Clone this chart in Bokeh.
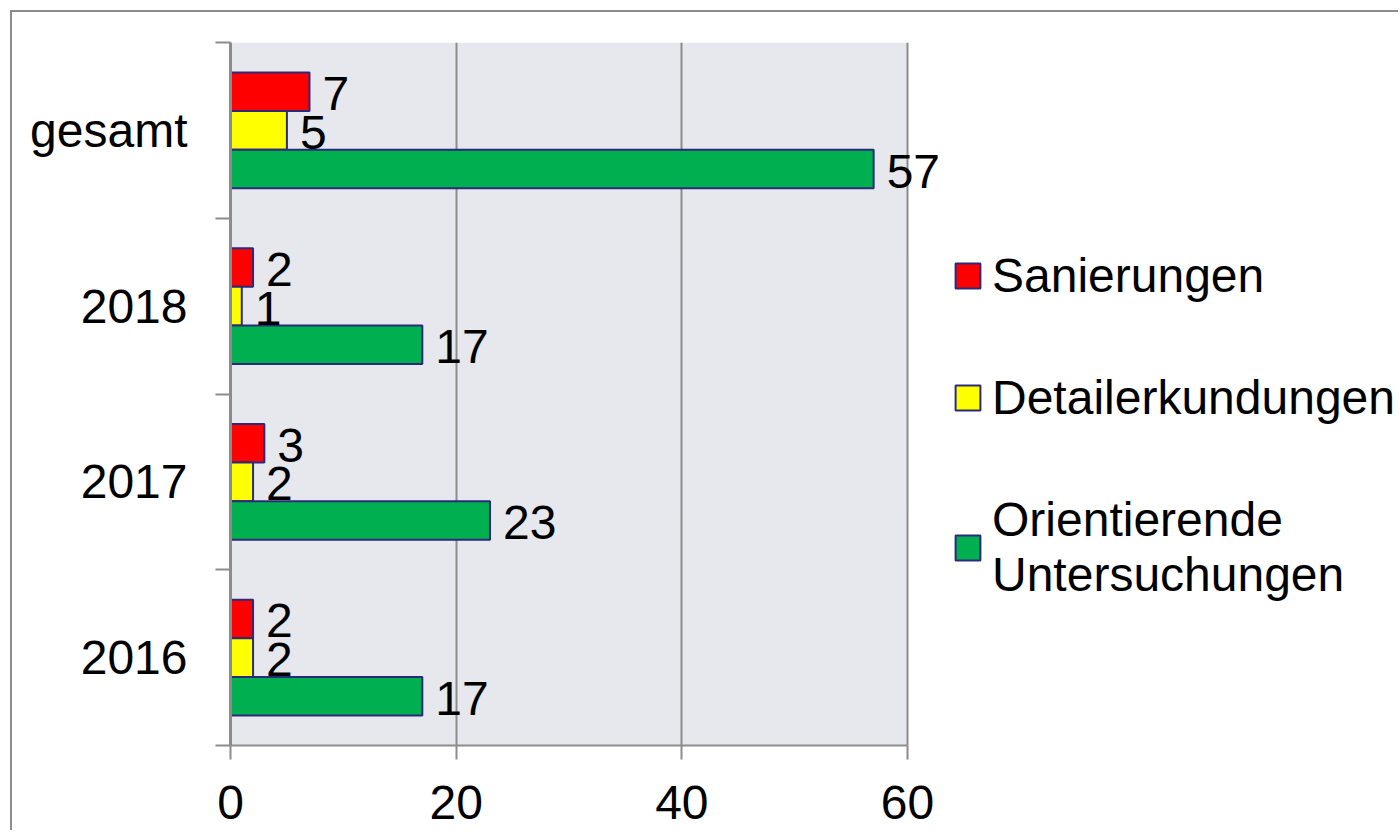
from bokeh.plotting import figure
from bokeh.models import ColumnDataSource, FixedTicker, Range1d, LabelSet, Legend, LegendItem, BoxAnnotation
from bokeh.embed import file_html
from bokeh.resources import INLINE
from bokeh.core.properties import value

categories = ["2016", "2017", "2018", "gesamt"]
sanierungen = [2, 3, 2, 7]
detailerkundungen = [2, 2, 1, 5]
orientierende = [17, 23, 17, 57]

series_names = ["Sanierungen", "Detailerkundungen", "Orientierende\nUntersuchungen"]
series_values = [sanierungen, detailerkundungen, orientierende]
colors = ["#FF0000", "#FFFF00", "#00B050"]
offsets = [0.22, 0.0, -0.22]
bar_h = 0.22

FONT = "Liberation Sans"
FS = "48px"
W, H = 1388, 820
LEFT, TOP, BOTTOM, RIGHT = 218, 30, 87, 0
AX_MAX = 60
frame_w = W - LEFT - RIGHT
x_end = AX_MAX * frame_w / 677.0

p = figure(width=W, height=H, output_backend="svg", toolbar_location=None,
           x_range=Range1d(0, x_end), y_range=Range1d(0, len(categories)),
           min_border_left=LEFT, min_border_right=RIGHT, min_border_top=TOP, min_border_bottom=BOTTOM)
p.styles = {"border-left": "2px solid #8c8c8c", "border-top": "2px solid #8c8c8c",
            "margin-left": "10px", "margin-top": "10px"}
p.outline_line_color = None
p.background_fill_color = "white"
p.border_fill_color = "white"

p.add_layout(BoxAnnotation(left=0, right=AX_MAX, fill_color="#E7E8EE", fill_alpha=1,
                           line_color=None, level="image"))

renderers = []
for name, vals, col, off in zip(series_names, series_values, colors, offsets):
    ys = [i + 0.5 + off for i in range(len(categories))]
    src = ColumnDataSource(dict(y=ys, right=vals, lab=[str(v) for v in vals]))
    r = p.hbar(y="y", right="right", left=0, height=bar_h, source=src,
               fill_color=col, line_color="#2B2A7A", line_width=2)
    renderers.append((name, r))
    lbl = LabelSet(x="right", y="y", text="lab", source=src, x_offset=13, y_offset=-2,
                   text_font=value(FONT), text_font_size=FS, text_color="black",
                   text_baseline="middle", text_align="left")
    p.add_layout(lbl)

# grid
p.ygrid.grid_line_color = None
p.xgrid.ticker = FixedTicker(ticks=[20, 40, 60])
p.xgrid.grid_line_color = "#8C8C8C"
p.xgrid.grid_line_width = 2

# x axis
p.xaxis.ticker = FixedTicker(ticks=[0, 20, 40, 60])
p.xaxis.bounds = (0, AX_MAX)
p.xaxis.axis_line_color = "#8C8C8C"
p.xaxis.axis_line_width = 2
p.xaxis.major_tick_line_color = "#8C8C8C"
p.xaxis.major_tick_line_width = 2
p.xaxis.major_tick_in = 0
p.xaxis.major_tick_out = 14
p.xaxis.minor_tick_line_color = None
p.xaxis.major_label_standoff = 26
p.xaxis.major_label_text_font = FONT
p.xaxis.major_label_text_font_size = FS
p.xaxis.major_label_text_color = "black"

# y axis
p.yaxis.ticker = FixedTicker(ticks=[i + 0.5 for i in range(len(categories))],
                             minor_ticks=list(range(len(categories) + 1)))
p.yaxis.major_label_overrides = {i + 0.5: c for i, c in enumerate(categories)}
p.yaxis.axis_line_color = "#8C8C8C"
p.yaxis.axis_line_width = 3
p.yaxis.major_tick_line_color = None
p.yaxis.major_tick_in = 0
p.yaxis.major_tick_out = 0
p.yaxis.minor_tick_line_color = "#8C8C8C"
p.yaxis.minor_tick_line_width = 2
p.yaxis.minor_tick_in = 0
p.yaxis.minor_tick_out = 15
p.yaxis.major_label_standoff = 28
p.yaxis.major_label_text_font = FONT
p.yaxis.major_label_text_font_size = FS
p.yaxis.major_label_text_color = "black"

legend = Legend(items=[LegendItem(label=n, renderers=[r]) for n, r in renderers],
                location=(722, 143), border_line_color=None, background_fill_alpha=0,
                label_text_font=FONT, label_text_font_size=FS, label_text_color="black",
                glyph_width=31, glyph_height=31, spacing=67, label_standoff=9,
                padding=0, margin=0)
p.add_layout(legend, "center")

open("out.html", "w").write(file_html(p, INLINE))
